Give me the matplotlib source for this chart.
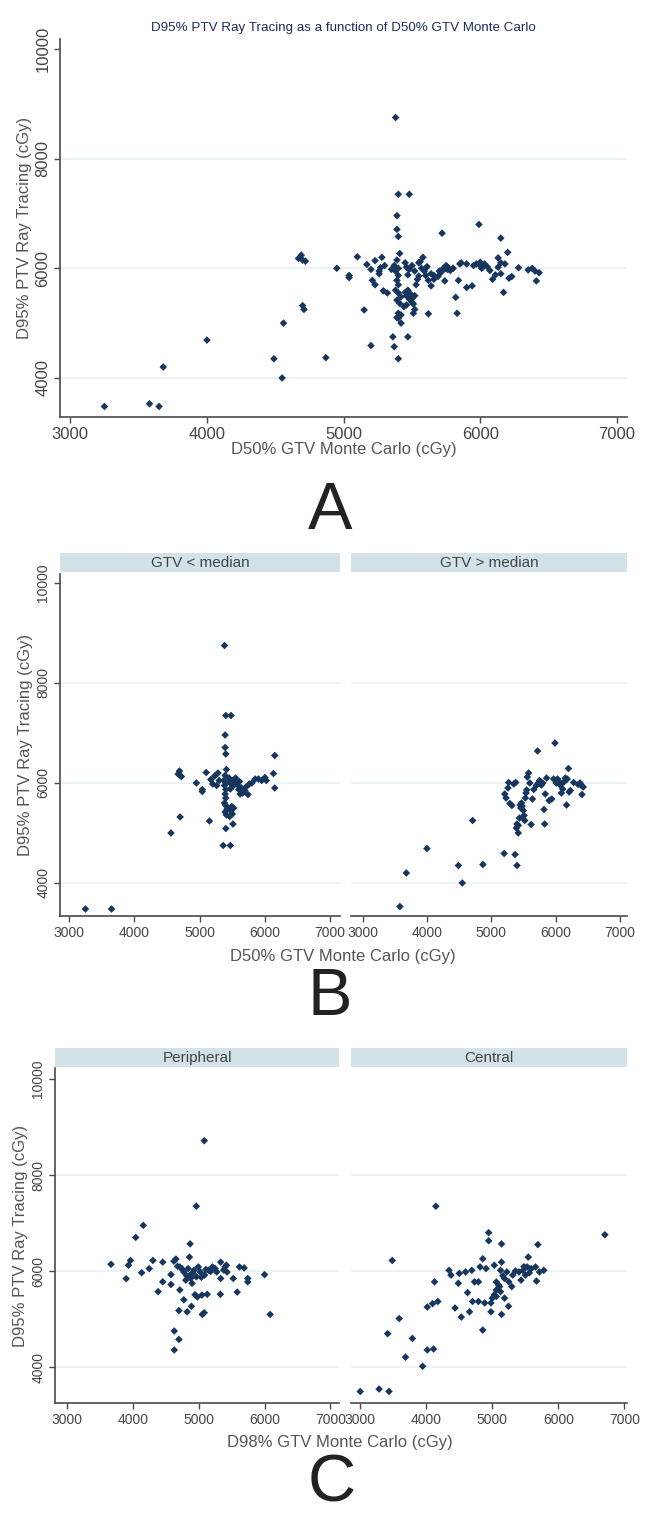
import matplotlib
matplotlib.use("Agg")
import matplotlib.pyplot as plt
from matplotlib import font_manager

# ---- data ----
# panel B, GTV < median: D50% GTV Monte Carlo vs D95% PTV Ray Tracing
gtv_low_x = [3250, 3650, 4560, 4700, 4690, 4670, 4720, 4700, 4950, 5040, 5040, 5100, 5150,
             5170, 5230, 5200, 5260, 5280, 5300, 5380, 5400, 5480, 5390, 5390, 5400, 5410,
             5390, 5370, 5400, 5380, 5400, 5390, 5400, 5380, 5400, 5420, 5390, 5410, 5400,
             5510, 5360, 5470, 5450, 5460, 5480, 5500, 5520, 5470, 5490, 5480, 5500, 5460,
             5520, 5550, 5570, 5590, 5610, 5640, 5660, 5690, 5710, 5740, 5760, 5800, 5850,
             5900, 5950, 6000, 6020, 6130, 6150, 6150, 5600, 5620]
gtv_low_y = [3480, 3480, 5000, 5320, 6240, 6180, 6130, 6150, 6000, 5870, 5830, 6210, 5240,
             6070, 6140, 5980, 5950, 6200, 6050, 8750, 7350, 7350, 6960, 6710, 6580, 6270,
             6150, 6050, 6000, 5950, 5870, 5780, 5700, 5600, 5550, 5480, 5420, 5360, 5090,
             5180, 4750, 4750, 6100, 6020, 5980, 6050, 5950, 5880, 5530, 5440, 5380, 5330,
             5500, 6100, 6000, 5950, 6030, 5900, 5800, 5850, 5920, 5770, 5980, 6000, 6080,
             6080, 6050, 6110, 6050, 6190, 5900, 6550, 5870, 5780]

# panel B, GTV > median
gtv_high_x = [3580, 3680, 4000, 4490, 4550, 4870, 4710, 5200, 5370, 5400, 5210, 5230, 5260,
              5270, 5290, 5320, 5350, 5380, 5390, 5400, 5420, 5420, 5440, 5450, 5460, 5470,
              5480, 5500, 5510, 5520, 5530, 5540, 5550, 5560, 5580, 5600, 5620, 5640, 5660,
              5700, 5720, 5730, 5740, 5750, 5760, 5780, 5800, 5820, 5830, 5840, 5860, 5900,
              5940, 5970, 5990, 6000, 6010, 6030, 6050, 6070, 6090, 6110, 6130, 6150, 6170,
              6180, 6200, 6210, 6230, 6280, 6350, 6380, 6410, 6430, 6400]
gtv_high_y = [3530, 4200, 4690, 4350, 4000, 4370, 5250, 4590, 4570, 4350, 5780, 5700, 5900,
              6010, 5590, 5550, 5980, 6010, 5100, 5180, 5000, 5150, 5300, 5560, 5500, 5600,
              5540, 5450, 5350, 5250, 5700, 5800, 5860, 6120, 6200, 6000, 5170, 5680, 5870,
              5950, 6640, 6000, 5990, 6050, 6020, 5960, 6000, 5470, 5180, 5780, 6100, 5650,
              5680, 6080, 6800, 6050, 6000, 6080, 6030, 5960, 5800, 5880, 6020, 6100, 5560,
              6080, 6290, 5820, 5850, 6010, 5970, 6000, 5770, 5920, 5950]

# panel C, peripheral: D98% GTV Monte Carlo vs D95% PTV Ray Tracing
periph_x = [3670, 3900, 3935, 3965, 4045, 4135, 4160, 4250, 4305, 4385, 4455, 4455, 4580,
            4580, 4625, 4655, 4630, 4700, 4630, 4715, 4700, 4775, 4825, 4890, 4870, 4860,
            4715, 4775, 4805, 4870, 4930, 4965, 4900, 4840, 4995, 5025, 5090, 5150, 5210,
            5275, 5335, 5400, 5430, 5335, 5525, 5620, 5690, 5745, 5745, 6000, 6085, 5585,
            5330, 5130, 4945, 5085, 5055, 4965, 5085, 4680, 4750, 4820, 4880, 4910, 5040,
            5110, 5180, 5250, 5380, 5420, 5050, 4980]
periph_y = [6140, 5840, 6120, 6220, 6700, 5965, 6950, 6050, 6220, 5570, 6185, 5775, 5925,
            5720, 6205, 6250, 4750, 4575, 4355, 5605, 5175, 5400, 5150, 5265, 6565, 6290,
            6085, 5980, 5810, 5915, 6015, 5880, 5745, 6050, 6085, 5980, 5915, 6015, 6085,
            5980, 6185, 6085, 5980, 5845, 5845, 6085, 6065, 5845, 5775, 5925, 5095, 5560,
            5515, 5515, 5505, 5130, 5095, 7350, 8715, 6100, 6040, 5900, 5850, 5960, 5870,
            6030, 5990, 6050, 6020, 6120, 5500, 5460]

# panel C, central
central_x = [3000, 3285, 3435, 3485, 3415, 3590, 3685, 3790, 3945, 4015, 4110, 4015, 4095,
             4175, 4125, 4145, 4345, 4375, 4435, 4485, 4530, 4625, 4655, 4700, 4730, 4790,
             4790, 4855, 4855, 4885, 4945, 4945, 4980, 4980, 5110, 5140, 5140, 5140, 5245,
             5295, 5545, 5690, 5670, 6705, 4500, 4595, 4690, 4815, 4905, 5030, 5125, 5220,
             5310, 5405, 5465, 5530, 5590, 5655, 5715, 5780, 5435, 5500, 5030, 5060, 5095,
             5125, 5185, 5250, 5185, 5060, 5000, 5060, 5160, 5350, 5480, 5560]
central_y = [3490, 3540, 3490, 6220, 4695, 5010, 4205, 4595, 4015, 4355, 4375, 5250, 5320,
             5365, 5775, 7350, 6015, 5915, 5230, 5745, 5040, 5550, 5150, 5365, 5775, 5775,
             5365, 6255, 4770, 5335, 6800, 6630, 5335, 5150, 5675, 6565, 5095, 6185, 5265,
             5675, 6290, 6550, 5790, 6755, 5950, 5980, 6015, 6085, 6050, 6120, 6015, 5980,
             5915, 5980, 6015, 6085, 6050, 6085, 5980, 6015, 5810, 5915, 5505, 5605, 5710,
             5570, 5845, 5775, 5435, 5470, 5435, 5770, 5900, 6000, 6090, 5960]

ylab = "D95% PTV Ray Tracing (cGy)"
yticks = [4000, 6000, 8000, 10000]
xticks = [3000, 4000, 5000, 6000, 7000]

# ---- style ----
W, H = 651, 1513
NAVY = "#17365e"
AXC = "#4a4a4a"
TXT = "#555555"
GRID = "#e9f1f3"
STRIP = "#d3e1e8"

names = {f.name for f in font_manager.fontManager.ttflist}
REG = "Liberation Sans" if "Liberation Sans" in names else "DejaVu Sans"
NARROW = "Liberation Sans Narrow" if "Liberation Sans Narrow" in names else REG
plt.rcParams["font.family"] = [REG, "DejaVu Sans"]

fig = plt.figure(figsize=(W / 100, H / 100), dpi=100)


def rect(l, t, r, b):
    return [l / W, 1 - b / H, (r - l) / W, (b - t) / H]


def style(ax, xlim, ylim, font, fs, show_y=True):
    ax.set_xlim(*xlim)
    ax.set_ylim(*ylim)
    for s in ("top", "right"):
        ax.spines[s].set_visible(False)
    ax.spines["bottom"].set_color(AXC)
    ax.spines["bottom"].set_linewidth(1.2)
    ax.spines["left"].set_color(AXC)
    ax.spines["left"].set_linewidth(1.2)
    ax.set_xticks(xticks)
    ax.set_yticks(yticks)
    for g in [4000, 6000, 8000]:
        ax.axhline(g, color=GRID, lw=1.2, zorder=0)
    ax.tick_params(axis="both", direction="out", length=4, width=1, color=AXC,
                   labelcolor="#444444", labelsize=fs, pad=3)
    for lab in ax.get_xticklabels():
        lab.set_fontfamily(font)
    if show_y:
        for lab in ax.get_yticklabels():
            lab.set_fontfamily(font)
            lab.set_rotation(90)
            lab.set_va("center")
    else:
        ax.spines["left"].set_visible(False)
        ax.tick_params(axis="y", left=False, labelleft=False)


def strip(l, t, r, b, label, font):
    sa = fig.add_axes(rect(l, t, r, b))
    sa.set_facecolor(STRIP)
    sa.set_xticks([])
    sa.set_yticks([])
    for s in sa.spines.values():
        s.set_visible(False)
    sa.text(0.5, 0.45, label, ha="center", va="center", fontsize=11,
            family=font, color="#444444", transform=sa.transAxes)


def dots(ax, x, y):
    ax.scatter(x, y, marker="D", s=15, color=NAVY, edgecolors="none", zorder=3)


# ---- panel A ----
axA = fig.add_axes(rect(60, 39, 627, 417))
dots(axA, gtv_low_x + gtv_high_x, gtv_low_y + gtv_high_y)
style(axA, (2925, 7073), (3288, 10182), REG, 12)
axA.set_ylabel(ylab, fontsize=12, color=TXT, labelpad=2)
axA.set_xlabel("D50% GTV Monte Carlo (cGy)", fontsize=12, color=TXT, labelpad=0)
fig.text(343 / W, 1 - 28 / H, "D95% PTV Ray Tracing as a function of D50% GTV Monte Carlo",
         ha="center", va="center", fontsize=9.6, color="#1c2c5c", family=NARROW)
fig.text(330 / W, 1 - 512 / H, "A", ha="center", va="center", fontsize=48,
         color="#222222", family=REG)

# ---- panel B ----
ylimB = (3340, 10180)
axB1 = fig.add_axes(rect(60, 574, 340, 916))
axB2 = fig.add_axes(rect(351, 574, 627, 916))
dots(axB1, gtv_low_x, gtv_low_y)
dots(axB2, gtv_high_x, gtv_high_y)
style(axB1, (2860, 7150), ylimB, NARROW, 10)
style(axB2, (2820, 7110), ylimB, NARROW, 10, show_y=False)
axB1.set_ylabel(ylab, fontsize=12, color=TXT, family=NARROW, labelpad=2)
strip(60, 553, 340, 572, "GTV < median", NARROW)
strip(351, 553, 627, 572, "GTV > median", NARROW)
fig.text(343 / W, 1 - 956 / H, "D50% GTV Monte Carlo (cGy)", ha="center", va="center",
         fontsize=12, color=TXT, family=NARROW)
fig.text(330 / W, 1 - 998 / H, "B", ha="center", va="center", fontsize=48,
         color="#222222", family=REG)

# ---- panel C ----
ylimC = (3250, 10230)
axC1 = fig.add_axes(rect(55, 1068, 339, 1403))
axC2 = fig.add_axes(rect(351, 1068, 627, 1403))
dots(axC1, periph_x, periph_y)
dots(axC2, central_x, central_y)
style(axC1, (2820, 7130), ylimC, NARROW, 10)
style(axC2, (2860, 7040), ylimC, NARROW, 10, show_y=False)
axC1.set_ylabel(ylab, fontsize=12, color=TXT, family=NARROW, labelpad=2)
strip(55, 1048, 339, 1067, "Peripheral", NARROW)
strip(351, 1048, 627, 1067, "Central", NARROW)
fig.text(340 / W, 1 - 1443 / H, "D98% GTV Monte Carlo (cGy)", ha="center", va="center",
         fontsize=12, color=TXT, family=NARROW)
fig.text(332 / W, 1 - 1485 / H, "C", ha="center", va="center", fontsize=48,
         color="#222222", family=REG)

fig.savefig("out.png", dpi=100, facecolor="white")
